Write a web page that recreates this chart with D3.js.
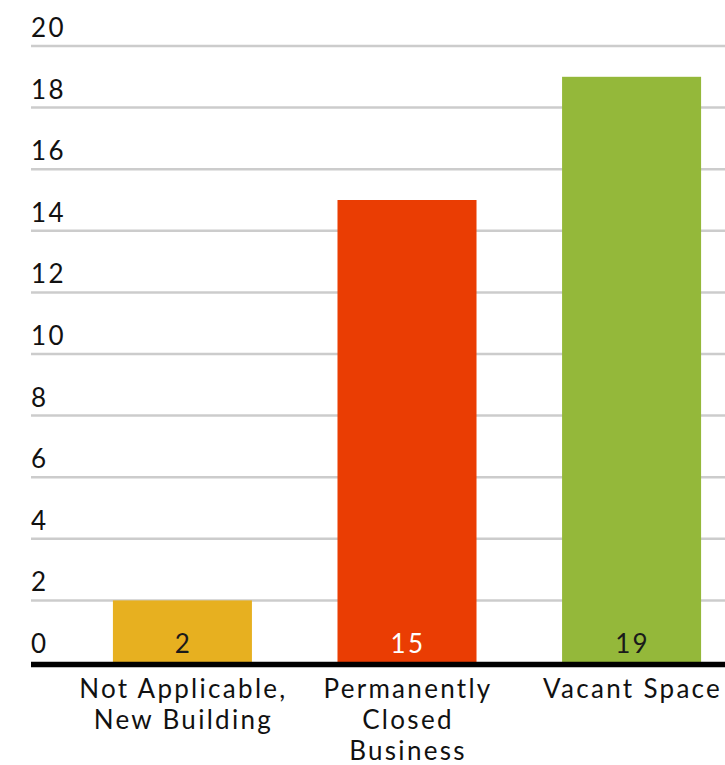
<!DOCTYPE html>
<html>
<head>
<meta charset="utf-8">
<script src="https://cdn.jsdelivr.net/npm/d3@7"></script>
<style>
  html, body { margin: 0; padding: 0; background: #fff; }
  svg { display: block; font-family: Lato, "Open Sans", sans-serif; letter-spacing: 2.3px; }
</style>
</head>
<body>
<svg id="chart" width="725" height="765"></svg>
<script>
// Reasons for closure, counts per category
const categories = [["Not Applicable,", "New Building"], ["Permanently", "Closed", "Business"], ["Vacant Space"]];
const values = [2, 15, 19];
const barColors = ["#E7B020", "#EA3D03", "#94B83A"];
const valueLabelColors = ["#1a1a1a", "#ffffff", "#1a1a1a"];
const yTicks = [0, 2, 4, 6, 8, 10, 12, 14, 16, 18, 20];

const svg = d3.select("#chart");
const keys = categories.map(c => c.join(" "));

const y = d3.scaleLinear().domain([0, 20]).range([662, 46]);
const x = d3.scaleBand().domain(keys).range([70.25, 743.75]).paddingInner(0.381).paddingOuter(0.19);

// Horizontal gridlines with tick labels sitting above them
const grid = svg.append("g");
grid.selectAll("line").data(yTicks.filter(t => t > 0)).join("line")
  .attr("x1", 31).attr("x2", 725)
  .attr("y1", d => y(d)).attr("y2", d => y(d))
  .attr("stroke", "#cccccc").attr("stroke-width", 2.5);

grid.selectAll("text").data(yTicks).join("text")
  .attr("x", 31).attr("y", d => y(d) - 9)
  .attr("font-size", 26).attr("fill", "#111")
  .text(d => d);

// Bars
svg.append("g").selectAll("rect").data(values).join("rect")
  .attr("x", (d, i) => x(keys[i]))
  .attr("width", x.bandwidth())
  .attr("y", d => y(d))
  .attr("height", d => y(0) - y(d))
  .attr("fill", (d, i) => barColors[i]);

// Value labels inside bars, near the base
svg.append("g").selectAll("text").data(values).join("text")
  .attr("x", (d, i) => x(keys[i]) + x.bandwidth() / 2 + 1)
  .attr("y", y(0) - 9)
  .attr("text-anchor", "middle")
  .attr("font-size", 26)
  .attr("fill", (d, i) => valueLabelColors[i])
  .text(d => d);

// Baseline
svg.append("line")
  .attr("x1", 31).attr("x2", 725)
  .attr("y1", y(0) + 2.5).attr("y2", y(0) + 2.5)
  .attr("stroke", "#000").attr("stroke-width", 5.5);

// Category labels, wrapped across lines
const cat = svg.append("g").selectAll("text").data(categories).join("text")
  .attr("x", (d, i) => x(keys[i]) + x.bandwidth() / 2 + 1)
  .attr("y", 698)
  .attr("text-anchor", "middle")
  .attr("font-size", 26)
  .attr("fill", "#111");
cat.selectAll("tspan").data(d => d).join("tspan")
  .attr("x", function () { return d3.select(this.parentNode).attr("x"); })
  .attr("dy", (d, i) => i === 0 ? 0 : 31)
  .text(d => d);
</script>
</body>
</html>
